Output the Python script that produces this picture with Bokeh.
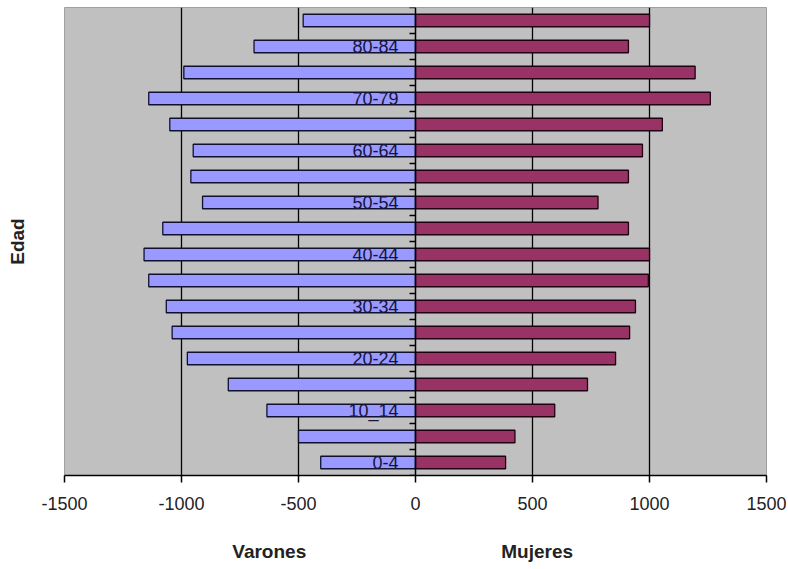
from bokeh.plotting import figure
from bokeh.models import Range1d, FixedTicker, LinearAxis
from bokeh.embed import file_html
from bokeh.resources import INLINE

# ---- data ----
grupos = ["0-4", "5-9", "10_14", "15-19", "20-24", "25-29", "30-34", "35-39",
          "40-44", "45-49", "50-54", "55-59", "60-64", "65-69", "70-79", "75-79",
          "80-84", "85+"]
varones = [405, 500, 635, 800, 975, 1040, 1065, 1140, 1160, 1080, 910, 960,
           950, 1050, 1140, 990, 690, 480]
mujeres = [385, 425, 595, 735, 855, 915, 940, 995, 1000, 910, 780, 910,
           970, 1055, 1260, 1195, 910, 1000]
x_ticks = [-1500, -1000, -500, 0, 500, 1000, 1500]
x_tick_labels = ["-1500", "-1000", "-500", "0", "500", "1000", "1500"]
grid_ticks = [-1000, -500, 500, 1000]
titulo_edad = "Edad"
titulo_varones = "Varones"
titulo_mujeres = "Mujeres"

# layout positions for the two bottom titles (data units along x)
POS_VARONES = -625
POS_MUJERES = 520

n = len(grupos)
ys = list(range(n))
FONT = "Liberation Sans"

p = figure(width=786, height=567,
           x_range=Range1d(-1500, 1500), y_range=Range1d(-0.5, n - 0.5),
           output_backend="svg", toolbar_location=None,
           min_border_left=64, min_border_right=20,
           min_border_top=7, min_border_bottom=92)
p.background_fill_color = "#C0C0C0"
p.border_fill_color = "white"
p.outline_line_color = "#A0A0A0"
p.outline_line_width = 1

# grid
p.xgrid.ticker = FixedTicker(ticks=grid_ticks)
p.xgrid.grid_line_color = "black"
p.xgrid.grid_line_width = 1.3
p.ygrid.visible = False

# bars
p.hbar(y=ys, left=[-v for v in varones], right=0, height=0.48,
       fill_color="#9999FF", line_color="#101030", line_width=1.3)
p.hbar(y=ys, left=0, right=mujeres, height=0.48,
       fill_color="#993366", line_color="#200010", line_width=1.3)

# main x axis
xa = p.xaxis[0]
xa.ticker = FixedTicker(ticks=x_ticks)
xa.major_label_overrides = dict(zip(x_ticks, x_tick_labels))
xa.axis_line_color = "black"
xa.axis_line_width = 1.5
xa.major_tick_out = 7
xa.major_tick_in = 0
xa.major_tick_line_color = "black"
xa.major_tick_line_width = 1.5
xa.minor_tick_line_color = None
xa.major_label_standoff = 14
xa.major_label_text_font = FONT
xa.major_label_text_font_size = "18px"
xa.major_label_text_color = "#222222"

# category axis at x = 0
ya = p.yaxis[0]
ya.fixed_location = 0
ya.ticker = FixedTicker(ticks=list(range(0, n, 2)),
                        minor_ticks=[i - 0.5 for i in range(n + 1)])
ya.major_label_overrides = {i: grupos[i] for i in range(0, n, 2)}
ya.axis_line_color = "black"
ya.axis_line_width = 1.5
ya.major_tick_out = 0
ya.major_tick_in = 0
ya.minor_tick_out = 6
ya.minor_tick_in = 0
ya.minor_tick_line_color = "black"
ya.minor_tick_line_width = 1.5
ya.major_label_standoff = 11
ya.major_label_text_font = FONT
ya.major_label_text_font_size = "18px"
ya.major_label_text_color = "#15153a"

# "Edad" title axis on the left
ea = LinearAxis(ticker=FixedTicker(ticks=[]), axis_label=titulo_edad,
                axis_line_color=None, major_tick_out=0, major_tick_in=0,
                minor_tick_out=0, minor_tick_in=0, major_label_standoff=0,
                axis_label_standoff=37,
                axis_label_text_font=FONT, axis_label_text_font_style="bold",
                axis_label_text_font_size="19px", axis_label_text_color="#222222")
p.add_layout(ea, "left")

# "Varones" / "Mujeres" titles below
na = LinearAxis(ticker=FixedTicker(ticks=[POS_VARONES, POS_MUJERES]),
                major_label_overrides={POS_VARONES: titulo_varones,
                                       POS_MUJERES: titulo_mujeres},
                axis_line_color=None, major_tick_out=0, major_tick_in=0,
                minor_tick_out=0, minor_tick_in=0, major_label_standoff=28,
                major_label_text_font=FONT, major_label_text_font_style="bold",
                major_label_text_font_size="19px", major_label_text_color="#222222")
p.add_layout(na, "below")

open("out.html", "w").write(file_html(p, INLINE))
